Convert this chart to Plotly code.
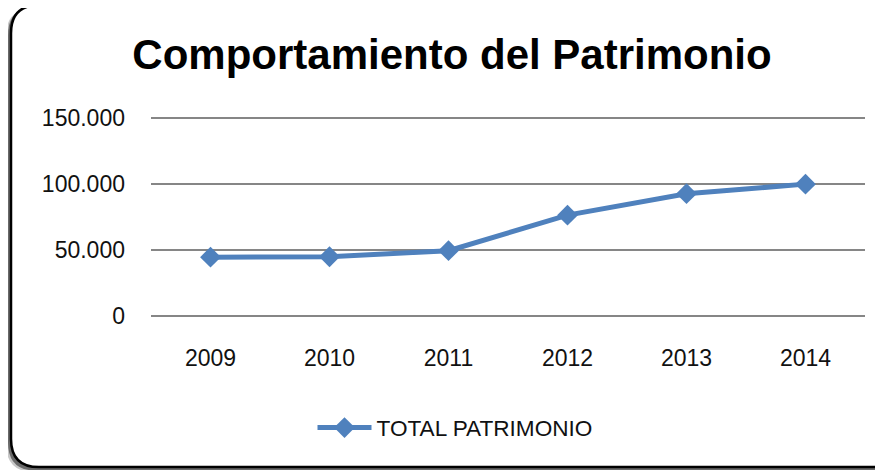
import plotly.graph_objects as go

years = ["2009", "2010", "2011", "2012", "2013", "2014"]
total_patrimonio = [44700, 45000, 49600, 76400, 92600, 99800]
y_ticks = [0, 50000, 100000, 150000]

OFF = 8  # page body margin
W, H = 883 - OFF, 470 - OFF
# plot area in page pixels
L, R = 151, 865
Y0, Y150 = 316, 118
k = (Y0 - Y150) / 150000.0
YMIN, YMAX = -1200, 151200
B = Y0 + (-YMIN) * k
T = Y150 - (YMAX - 150000) * k


def px(x):
    return (x - L) / (R - L)


def py(y):
    return (B - y) / (B - T)


def rrect(x0, y0, x1, y1, r):
    return (
        f"M {px(x0 + r)},{py(y0)} L {px(x1 - r)},{py(y0)} "
        f"Q {px(x1)},{py(y0)} {px(x1)},{py(y0 + r)} "
        f"L {px(x1)},{py(y1 - r)} "
        f"Q {px(x1)},{py(y1)} {px(x1 - r)},{py(y1)} "
        f"L {px(x0 + r)},{py(y1)} "
        f"Q {px(x0)},{py(y1)} {px(x0)},{py(y1 - r)} "
        f"L {px(x0)},{py(y0 + r)} "
        f"Q {px(x0)},{py(y0)} {px(x0 + r)},{py(y0)} Z"
    )


fig = go.Figure()
fig.add_trace(go.Scatter(
    x=years, y=total_patrimonio, mode="lines+markers",
    name="TOTAL PATRIMONIO",
    line=dict(color="#4F81BD", width=5),
    marker=dict(symbol="diamond", size=16, color="#4F81BD"),
))

shapes = [
    dict(type="path", xref="paper", yref="paper", path=rrect(6, 9, 897, 471, 28),
         fillcolor="#c8c8c8", line=dict(width=0), layer="below"),
    dict(type="path", xref="paper", yref="paper", path=rrect(8, 8, 899, 469.5, 28),
         fillcolor="#6a6a6a", line=dict(width=0), layer="below"),
    dict(type="path", xref="paper", yref="paper", path=rrect(11, 6, 901, 466, 28),
         fillcolor="white", line=dict(color="black", width=2.5), layer="below"),
]

fig.update_layout(
    width=W, height=H,
    margin=dict(l=L - OFF, r=(W + OFF) - R, t=T - OFF, b=(H + OFF) - B, pad=0, autoexpand=False),
    paper_bgcolor="white", plot_bgcolor="rgba(0,0,0,0)",
    separators=",.",
    font=dict(family="Liberation Sans, Arial, sans-serif", size=23, color="#111111"),
    title=dict(text="<b>Comportamiento del Patrimonio</b>", x=(452 - OFF) / W, xanchor="center",
               y=1 - (54 - OFF) / H, yanchor="middle",
               font=dict(size=42, color="black")),
    xaxis=dict(range=[-0.5, 5.5], showgrid=False, showline=False, ticks="",
               tickfont=dict(size=23), ticklabelstandoff=24, fixedrange=True,
               automargin=False),
    yaxis=dict(range=[YMIN, YMAX], tickvals=y_ticks, tickformat=",d",
               showgrid=True, gridcolor="#868686", gridwidth=1.6,
               zeroline=False, showline=False, ticks="", ticklabelstandoff=25,
               tickfont=dict(size=23), automargin=False),
    legend=dict(orientation="h", x=px(455), xanchor="center", y=py(427), yanchor="middle",
                font=dict(size=22.6), itemwidth=54),
    showlegend=True,
    shapes=shapes,
)

fig.write_html("out.html")
